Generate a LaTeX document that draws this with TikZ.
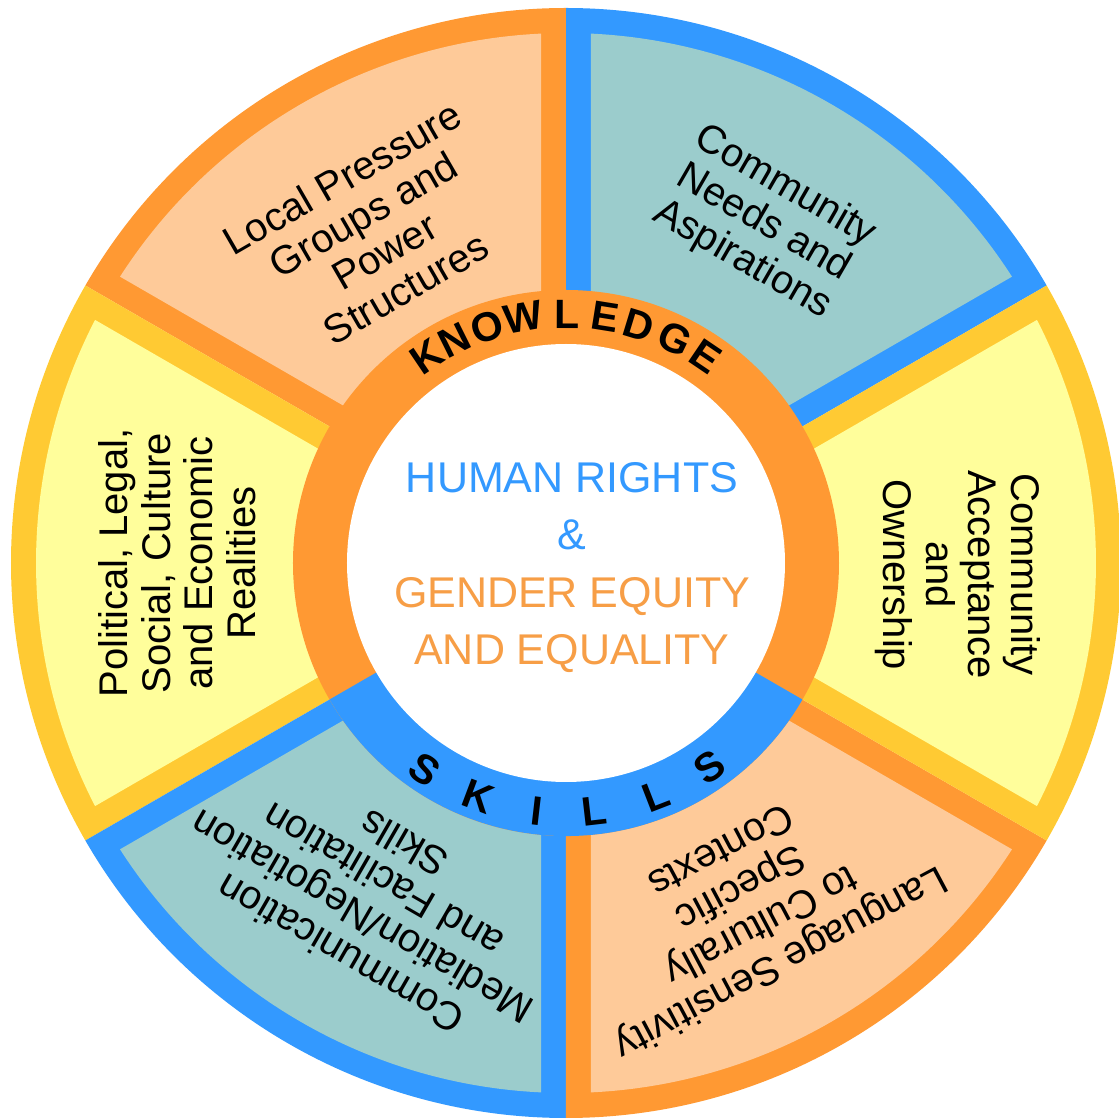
\documentclass[tikz,border=0pt]{standalone}
\usepackage{fontspec}
\setmainfont{Liberation Sans}
\definecolor{blueB}{RGB}{51,153,255}
\definecolor{tealF}{RGB}{155,204,204}
\definecolor{orangeB}{RGB}{255,153,51}
\definecolor{peachF}{RGB}{254,202,153}
\definecolor{yellowB}{RGB}{255,202,51}
\definecolor{yellowF}{RGB}{255,254,155}
\definecolor{txtOrange}{RGB}{247,158,70}
\newcommand\wheelseg[4]{%
  \fill[#3] (0,0) -- (#1:555pt) arc[start angle=#1, end angle=#2, radius=555pt] -- cycle;
  \fill[#4] ({(#1+#2)/2}:50pt) -- ({#1+2.7}:530pt) arc[start angle={#1+2.7}, end angle={#2-2.7}, radius=530pt] -- cycle;
}
\tikzset{
  segtext/.style={align=center, inner sep=0pt, font=\fontsize{40}{42.5}\selectfont, text=black},
  ctext/.style={inner sep=0pt, anchor=base, font=\fontsize{43}{50}\selectfont},
  arcletter/.style={inner sep=0pt, font=\bfseries\fontsize{41}{44}\selectfont, text=black}
}
\begin{document}
\begin{tikzpicture}[x=1pt,y=1pt]
\useasboundingbox (-566,-555) rectangle (553,563);
% outer segments
\wheelseg{30}{90}{blueB}{tealF}
\wheelseg{90}{150}{orangeB}{peachF}
\wheelseg{150}{210}{yellowB}{yellowF}
\wheelseg{210}{270}{blueB}{tealF}
\wheelseg{270}{330}{orangeB}{peachF}
\wheelseg{-30}{30}{yellowB}{yellowF}
% ring
\fill[orangeB] (0,0) circle (273pt);
\fill[blueB] (0,0) -- (210:273pt) arc[start angle=210, end angle=330, radius=273pt] -- cycle;
\fill[white] (0,0) circle (219pt);
% ring letters
\foreach \a/\l [count=\i] in {124.0/K,116.5/N,108.4/O,99.9/W,89.8/L,80.9/E,73/D,64/G,55.9/E}
  \node[arcletter, rotate=\a-90] (k\i) at (\a:249pt) {\l};
\foreach \a/\l [count=\i] in {235.6/S,249.4/K,263.4/I,276.6/L,291.2/L,305.1/S}
  \node[arcletter, rotate=\a+90] (s\i) at (\a:250pt) {\l};
% center text
\node[ctext, text=blueB] (h1) at (6,70) {HUMAN RIGHTS};
\node[ctext, text=blueB] (h2) at (6,13) {\&};
\node[ctext, text=txtOrange] (h3) at (6,-45) {GENDER EQUITY};
\node[ctext, text=txtOrange] (h4) at (6,-102) {AND EQUALITY};
% segment texts
\node[segtext, rotate=30] (lp) at (120.2:382pt) {Local Pressure\\Groups and\\Power\\Structures};
\node[segtext, rotate=-30] (cn) at (59.8:393pt) {Community\\Needs and\\Aspirations};
\node[segtext, rotate=90] (pl) at (180:389pt) {Political, Legal,\\Social, Culture\\and Economic\\Realities};
\node[segtext, rotate=-90] (ca) at (-1.7:392pt) {Community\\Acceptance\\and\\Ownership};
\node[segtext, rotate=150] (cm) at (240:388pt) {Communication\\Mediation/Negotiation\\and Facilitation\\Skills};
\node[segtext, rotate=208] (ls) at (298.3:392pt) {Language Sensitivity\\to Culturally\\Specific\\Contexts};
\end{tikzpicture}
\end{document}
